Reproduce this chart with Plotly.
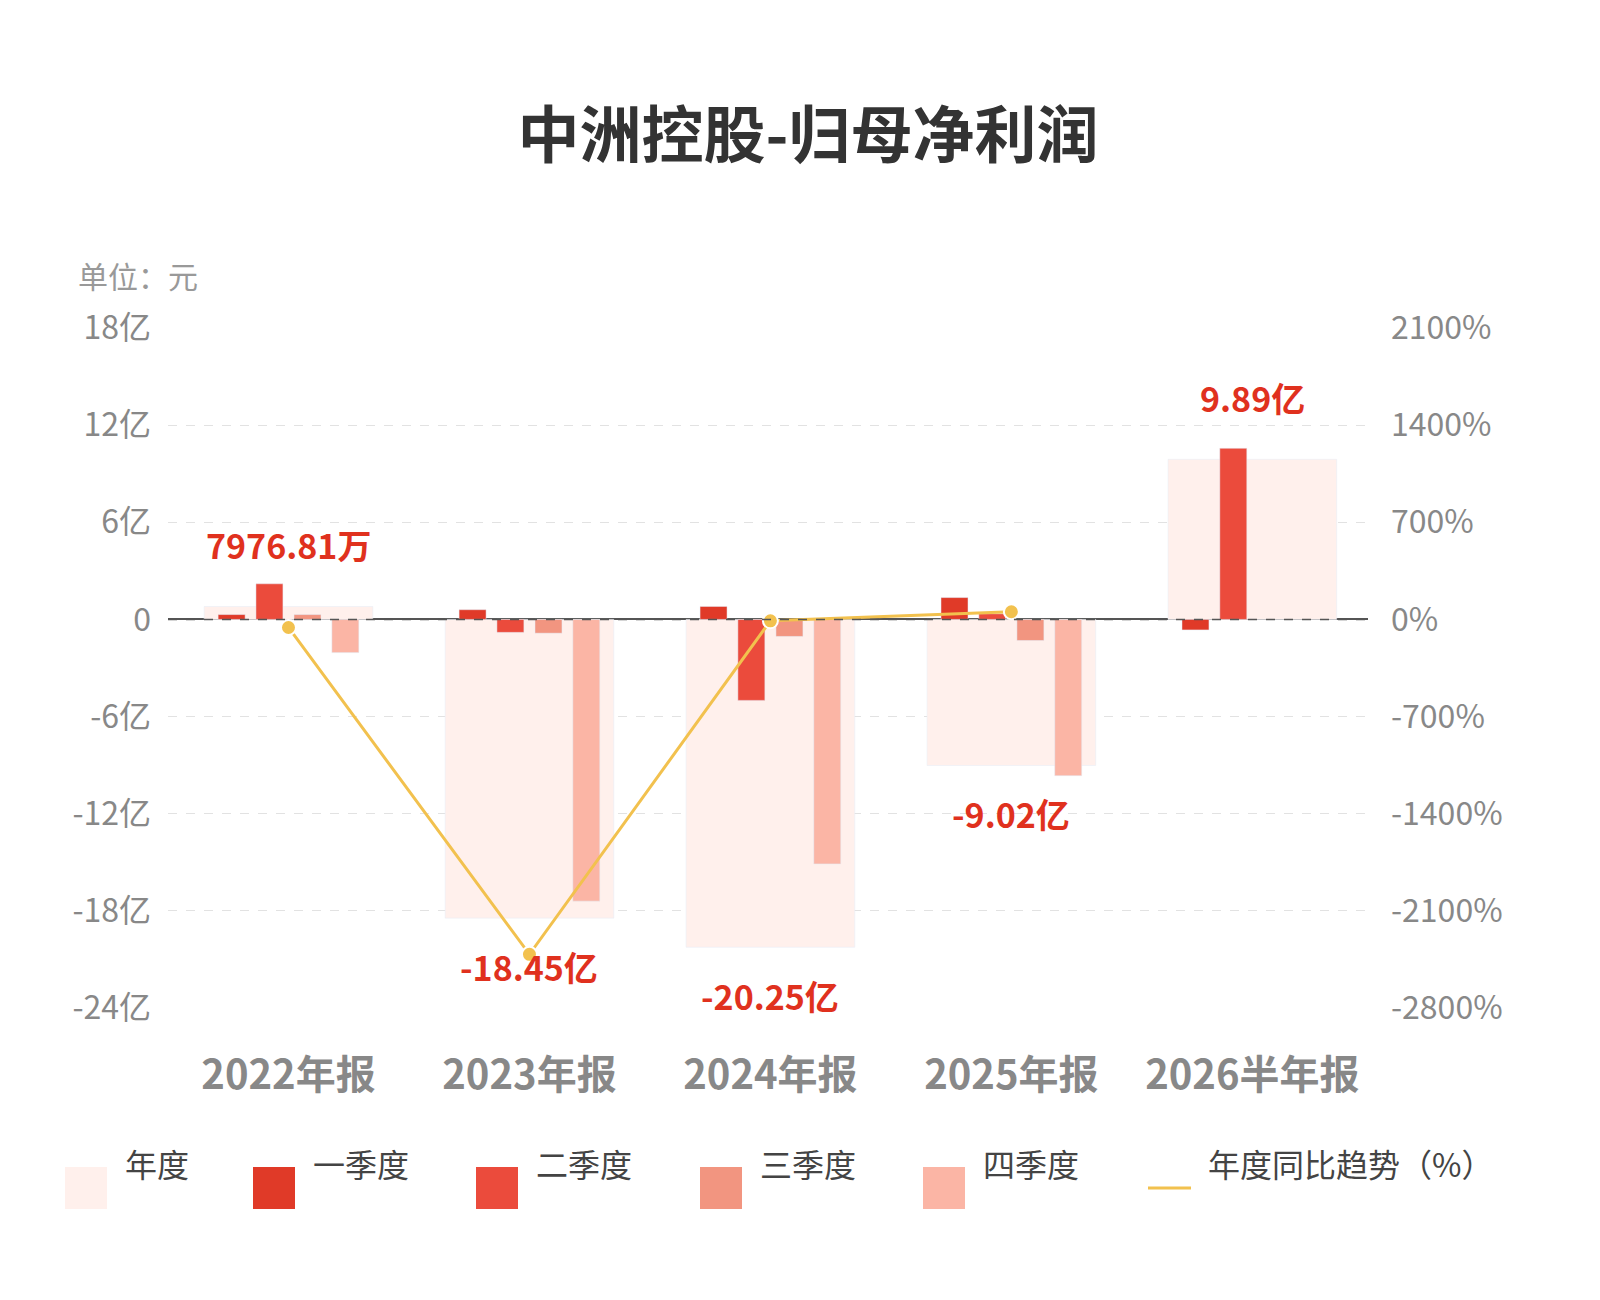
import plotly.graph_objects as go

cats = ["2022年报", "2023年报", "2024年报", "2025年报", "2026半年报"]
annual = [0.797681, -18.45, -20.25, -9.02, 9.89]
annual_labels = ["7976.81万", "-18.45亿", "-20.25亿", "-9.02亿", "9.89亿"]
q1 = [0.3, 0.6, 0.8, 1.35, -0.65]
q2 = [2.2, -0.8, -5.0, 0.35, 10.57]
q3 = [0.3, -0.85, -1.05, -1.3, None]
q4 = [-2.05, -17.4, -15.1, -9.65, None]
yoy = [-58, -2413, -9.8, 55.5]

L, R, T, B = 160, 1360, 320, 1000
def px(xp): return (xp - L) / (R - L)
def py(yp): return (B - yp) / (B - T)

x = list(range(len(cats)))
fig = go.Figure()
fig.add_bar(x=x, y=annual, width=0.7, marker_color="#FFF0EC", name="年度")
offs = [-0.236, -0.079, 0.079, 0.236]
cols = ["#E03A28", "#EB4B3C", "#F29580", "#FBB5A5"]
names = ["一季度", "二季度", "三季度", "四季度"]
for s, o, c, n in zip([q1, q2, q3, q4], offs, cols, names):
    fig.add_bar(x=[i + o for i in x], y=s, width=0.112, marker_color=c, name=n)
fig.add_scatter(x=x[:4], y=yoy, yaxis="y2", mode="lines+markers", name="年度同比趋势（%）",
                line=dict(color="#F2C14E", width=3),
                marker=dict(size=15, color="#F2C14E", line=dict(color="white", width=2)))
for i, (v, t) in enumerate(zip(annual, annual_labels)):
    fig.add_annotation(x=i, y=v, text=f"<b>{t}</b>", showarrow=False,
                       yshift=(62 if v > 0 else -48), font=dict(size=34, color="#E0311E"))
fig.add_annotation(x=px(68), y=py(243), xref="paper", yref="paper", text="单位：元",
                   showarrow=False, font=dict(size=30, color="#999"), xanchor="left")

# manual legend
leg_cols = ["#FFF0EC"] + cols
leg_names = ["年度"] + names
leg_x = [57, 245, 468, 692, 915]
shapes = []
for lx, c, n in zip(leg_x, leg_cols, leg_names):
    shapes.append(dict(type="rect", xref="paper", yref="paper", x0=px(lx), x1=px(lx + 42),
                       y0=py(1201), y1=py(1159), fillcolor=c, line=dict(width=0)))
    fig.add_annotation(x=px(lx + 58), y=py(1180), xref="paper", yref="paper", text=n,
                       xanchor="left", showarrow=False, font=dict(size=32, color="#444"))
shapes.append(dict(type="line", xref="paper", yref="paper", x0=px(1140), x1=px(1183),
                   y0=py(1180), y1=py(1180), line=dict(color="#F2C14E", width=3)))
fig.add_annotation(x=px(1198), y=py(1180), xref="paper", yref="paper", text="年度同比趋势（%）",
                   xanchor="left", showarrow=False, font=dict(size=32, color="#444"))

fig.update_layout(
    width=1600, height=1300, barmode="overlay", plot_bgcolor="white", paper_bgcolor="white",
    font=dict(family="Noto Sans CJK SC"), showlegend=False, shapes=shapes,
    title=dict(text="<b>中洲控股-归母净利润</b>", x=0.5, xanchor="center", y=1 - 128 / 1300,
               yanchor="middle", font=dict(size=62, color="#333")),
    margin=dict(l=L, r=1600 - R, t=T, b=1300 - B, autoexpand=False),
    xaxis=dict(range=[-0.5, 4.48], tickvals=x, ticktext=[f"<b>{c}</b>" for c in cats],
               tickfont=dict(size=40, color="#888"), showgrid=False, zeroline=False,
               ticklabelstandoff=40, automargin=False),
    yaxis=dict(range=[-24, 18], tickvals=[-24, -18, -12, -6, 0, 6, 12, 18],
               ticktext=["-24亿", "-18亿", "-12亿", "-6亿", "0", "6亿", "12亿", "18亿"],
               tickfont=dict(size=32, color="#888"), gridcolor="#E2E2E2", griddash="dash",
               zeroline=True, zerolinecolor="#555", zerolinewidth=1.5, griddash_=None if False else None,
               ticklabelstandoff=16, automargin=False) if False else dict(
               range=[-24, 18], tickvals=[-24, -18, -12, -6, 0, 6, 12, 18],
               ticktext=["-24亿", "-18亿", "-12亿", "-6亿", "0", "6亿", "12亿", "18亿"],
               tickfont=dict(size=32, color="#888"), gridcolor="#E2E2E2", griddash="dash",
               zeroline=True, zerolinecolor="#555", zerolinewidth=1.5,
               ticklabelstandoff=16, automargin=False),
    yaxis2=dict(overlaying="y", side="right", range=[-2800, 2100],
                tickvals=[-2800, -2100, -1400, -700, 0, 700, 1400, 2100],
                ticktext=[f"{v}%" for v in [-2800, -2100, -1400, -700, 0, 700, 1400, 2100]],
                tickfont=dict(size=32, color="#888"), showgrid=False, zeroline=False,
                ticklabelstandoff=22, automargin=False),
)
fig.add_shape(type="line", xref="paper", yref="y", x0=0, x1=1, y0=0, y1=0,
              line=dict(color="#555", width=1.5, dash="dash"))
fig.write_html("out.html")
